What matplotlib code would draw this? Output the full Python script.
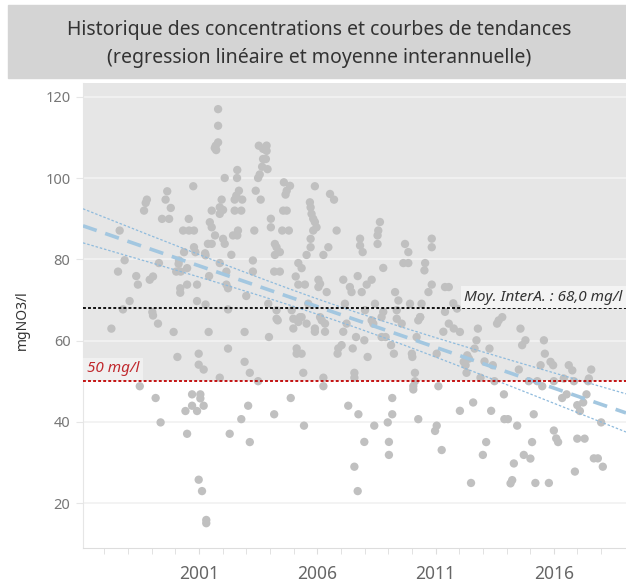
# Historique des concentrations en nitrates, avec tendance linéaire et moyenne interannuelle
import numpy as np
import matplotlib.pyplot as plt
from matplotlib.patches import Rectangle

plt.rcParams['font.family'] = ['Noto Sans', 'DejaVu Sans']

# dates des prélèvements (années décimales) et concentrations (mg NO3/l)
years = [
    2001.81, 2001.81, 2001.71, 2001.81, 2001.73, 2001.67, 2002.09, 2002.62, 2002.61,
    2003.53, 2003.71, 2003.71, 2003.67, 2003.50, 2003.57, 2003.40, 2003.61,
    2002.69, 2002.58, 2002.83, 2002.51, 2002.51, 2002.79,
    2001.96, 2001.54, 2001.88, 2002.02, 2001.88, 2000.76,
    1999.66, 1999.59, 1999.81, 1998.80, 1998.75, 1998.68, 1999.44, 1999.74, 2000.57,
    2000.33, 2000.58, 2000.79, 1997.65, 2001.46, 2001.54, 2001.68, 2002.02, 2002.09,
    2002.65, 2002.62, 2002.44, 2003.34, 2001.38, 2001.54, 2000.79, 2000.85, 2000.37,
    2001.26, 2001.28, 2002.37, 2003.28, 2003.28, 1997.86, 1999.31,
    2000.16, 2000.14, 2000.04, 2000.23, 1997.58, 1998.35, 1998.42, 1999.06, 1998.92,
    2000.50, 2001.88, 2002.16, 2001.43, 2000.50, 2000.92, 2000.21, 2000.21,
    2002.16, 2002.23, 2003.00, 1998.07, 2000.92, 2001.28, 1997.79, 1999.03, 2002.23,
    2003.86, 2003.86, 2003.83, 2003.90, 2004.59, 2004.85, 2004.71, 2004.66, 2005.90,
    2006.54, 2006.71, 2005.69, 2005.72, 2005.76, 2005.83, 2005.90, 2005.97, 2005.83,
    2004.04, 2004.04, 2004.56, 2004.71, 2004.52, 2004.80, 2006.82, 2005.72, 2005.72,
    2006.47, 2006.26, 2005.55, 2004.21, 2004.28, 2004.42, 2004.21,
    2008.65, 2008.58, 2008.55, 2008.55, 2007.81, 2007.81, 2007.92, 2009.71, 2009.85,
    2010.84, 2010.84, 2009.64, 2009.85, 2010.56, 2010.53, 2008.79, 2004.18, 2004.42,
    2005.20, 2005.34, 2005.09, 2006.05, 2006.12, 2006.05, 2005.48, 2005.20, 2007.10,
    2007.71, 2007.38, 2007.45, 2007.88, 2008.09, 2008.30, 2006.40, 2009.29, 2009.43,
    2010.84, 2010.70, 2011.40, 2003.93, 2004.92, 2005.27, 2005.62, 2004.28, 2004.28,
    2007.17, 2008.44, 2009.92, 2010.41, 2008.02, 2008.79, 2009.36, 2010.35, 2011.40,
    2006.12, 2011.56, 2011.75, 2011.91,
    1999.06, 1997.30, 1999.27, 1999.93, 2001.41, 2002.93, 2002.23, 2000.09, 2000.99,
    2000.99, 2001.20, 2002.93, 2003.15, 2001.88, 2003.50, 1998.50, 1999.17, 2000.71,
    2001.06, 2001.06, 2000.71, 2001.20, 2000.43, 2000.92, 2003.08, 2002.79, 1999.38,
    2000.50, 2002.30, 2003.15, 2000.99, 2001.13, 2001.31, 2001.31,
    2004.33, 2003.96, 2004.99, 2004.99, 2005.20, 2005.34, 2005.55, 2005.90, 2005.90,
    2006.19, 2006.33, 2006.33, 2007.10, 2007.24, 2005.13, 2005.13, 2005.34, 2006.89,
    2007.03, 2006.86, 2007.50, 2007.64, 2007.99, 2008.13, 2008.72, 2008.89, 2009.12,
    2009.24, 2008.37, 2008.30, 2008.72, 2009.36, 2009.57, 2010.00, 2010.02, 2010.27,
    2010.35, 2011.05, 2011.33, 2010.20, 2005.41, 2006.26, 2006.26, 2007.57, 2007.57,
    2010.13, 2010.13, 2010.06, 2010.06, 2011.12, 2004.88, 2004.18, 2005.44, 2007.31,
    2007.74, 2009.17, 2009.17, 2008.98, 2008.41, 2007.99, 2009.03, 2009.03, 2007.57,
    2007.71, 2010.27, 2011.05, 2010.98, 2011.26,
    2011.56, 2011.77, 2012.03, 2013.67, 2013.60, 2013.82, 2012.79, 2014.59, 2012.73,
    2012.65, 2014.80, 2014.66, 2015.58, 2015.62, 2013.28, 2012.34, 2012.41, 2012.19,
    2012.27, 2013.07, 2013.42, 2012.31, 2012.90, 2013.49, 2014.52, 2015.44, 2015.86,
    2015.97, 2016.63, 2016.78, 2017.58, 2014.94, 2015.30, 2015.51, 2016.00, 2016.42,
    2016.85, 2017.48, 2017.45, 2013.89, 2016.35, 2016.54, 2017.38, 2016.99, 2017.10,
    2017.24, 2012.59, 2012.03, 2013.35, 2015.15, 2013.91, 2014.06, 2014.45, 2018.00,
    2016.00, 2016.10, 2016.18, 2016.99, 2017.30, 2013.14, 2015.08, 2013.00, 2014.73,
    2015.01, 2014.31, 2017.69, 2017.86, 2018.07, 2016.89, 2012.50, 2014.24, 2014.17,
    2015.22, 2015.79,
]
no3 = [
    116.97, 112.88, 107.97, 108.79, 106.9, 107.4, 100.03, 102.0, 100.03,
    107.97, 107.2, 104.7, 102.8, 100.03, 100.9, 96.9, 94.71,
    96.9, 95.7, 94.71, 94.71, 92.0, 92.0,
    94.71, 92.0, 92.83, 92.17, 91.2, 98.0,
    96.76, 94.71, 92.66, 94.71, 93.9, 92.0, 89.97, 89.97, 89.97,
    87.1, 87.1, 87.1, 87.1, 89.15, 87.9, 85.9, 85.06, 83.83,
    87.1, 85.9, 85.9, 87.1, 83.83, 83.83, 83.0, 81.78, 81.78,
    81.5, 81.0, 81.13, 79.74, 77.0, 79.8, 79.1,
    79.74, 78.9, 77.0, 77.0, 77.0, 75.9, 73.8, 75.8, 75.0,
    77.85, 79.1, 77.0, 75.9, 73.8, 73.8, 72.9, 71.8,
    73.8, 72.9, 71.0, 69.75, 69.75, 68.9, 67.7, 67.05, 67.7,
    108.0, 106.7, 104.7, 102.2, 98.96, 98.1, 96.9, 95.94, 98.0,
    96.1, 94.7, 94.05, 92.8, 91.2, 90.0, 89.2, 87.9, 87.1,
    90.0, 87.9, 92.0, 92.0, 87.1, 87.1, 87.1, 85.06, 83.0,
    83.0, 81.1, 81.1, 83.8, 83.0, 81.8, 81.1,
    89.2, 87.1, 85.9, 83.8, 85.1, 83.4, 81.8, 83.8, 81.8,
    85.1, 83.0, 79.1, 79.1, 79.1, 77.3, 77.9, 77.0, 77.0,
    79.1, 77.85, 75.8, 75.0, 74.0, 73.2, 73.8, 73.8, 75.0,
    75.9, 73.2, 71.96, 71.96, 73.8, 75.0, 71.96, 71.96, 69.9,
    73.8, 71.96, 73.2, 69.1, 67.5, 65.8, 69.1, 67.5, 65.4,
    69.1, 69.1, 69.1, 69.1, 67.5, 67.1, 67.5, 65.8, 67.1,
    65.8, 73.2, 69.2, 67.9,
    66.2, 62.97, 64.2, 62.15, 62.15, 62.15, 58.06, 56.0, 56.8,
    54.1, 52.9, 54.8, 52.1, 50.9, 50.04, 48.8, 45.9, 46.8,
    46.8, 45.8, 44.0, 44.0, 42.7, 42.7, 44.0, 40.7, 39.9,
    37.1, 37.1, 35.06, 25.8, 23.0, 15.9, 15.1,
    65.0, 60.9, 65.4, 63.0, 64.6, 65.8, 64.2, 63.0, 62.2,
    65.0, 64.2, 62.2, 62.2, 64.2, 58.1, 56.8, 56.8, 58.1,
    58.9, 56.8, 58.1, 60.9, 60.1, 56.0, 60.9, 60.9, 58.9,
    56.8, 64.2, 65.0, 65.8, 65.4, 64.2, 56.8, 56.0, 65.0,
    65.8, 56.8, 62.2, 60.9, 52.1, 50.9, 48.8, 52.1, 50.9,
    52.1, 50.04, 48.8, 48.0, 48.8, 45.9, 41.9, 39.1, 44.0,
    41.9, 45.9, 41.9, 39.9, 39.1, 35.1, 35.1, 31.9, 29.0,
    23.0, 40.7, 39.1, 37.8, 33.1,
    64.2, 63.0, 62.15, 65.0, 64.2, 65.8, 62.97, 62.97, 60.1,
    58.06, 60.1, 58.9, 60.1, 56.8, 58.06, 56.4, 55.6, 54.8,
    53.97, 54.9, 53.97, 52.1, 50.9, 50.04, 52.9, 53.97, 54.8,
    53.97, 53.97, 52.7, 52.9, 50.04, 50.04, 48.8, 50.04, 50.7,
    50.04, 50.7, 50.04, 46.8, 45.9, 46.8, 46.8, 44.15, 42.7,
    44.8, 44.8, 42.75, 42.75, 41.9, 40.7, 40.7, 39.1, 39.9,
    37.9, 35.96, 35.06, 35.9, 35.9, 35.06, 35.06, 31.9, 31.9,
    31.0, 29.8, 31.05, 31.05, 29.0, 27.8, 25.0, 25.7, 24.9,
    25.0, 25.0,
]

moyenne_interannuelle = 68.0
seuil = 50
x_ticks_labels = [2001, 2006, 2011, 2016]
y_ticks = [20, 40, 60, 80, 100, 120]

x = np.array(years)
y = np.array(no3)

# Regression lineaire + intervalle de confiance a 95 % sur la moyenne
slope, intercept = np.polyfit(x, y, 1)
resid = y - (slope * x + intercept)
n = len(x)
s = np.sqrt(np.sum(resid ** 2) / (n - 2))
sxx = np.sum((x - x.mean()) ** 2)

x_min, x_max = 1996.1, 2019.05
xs = np.linspace(x_min, x_max, 200)
fit = slope * xs + intercept
half = 1.96 * s * np.sqrt(1 / n + (xs - x.mean()) ** 2 / sxx)

fig = plt.figure(figsize=(6.26, 5.84), dpi=100)
ax = fig.add_axes([83 / 626, 36 / 584, 543 / 626, 465 / 584])

# bandeau du titre
fig.patches.append(Rectangle((8 / 626, 1 - 78 / 584), 1, 73 / 584,
                             transform=fig.transFigure, color='#d4d4d4', zorder=0))
fig.text(0.51, 1 - 30 / 584, 'Historique des concentrations et courbes de tendances',
         ha='center', va='center', fontsize=14, color='#333333')
fig.text(0.51, 1 - 58 / 584, '(regression linéaire et moyenne interannuelle)',
         ha='center', va='center', fontsize=14, color='#333333')

ax.set_xlim(x_min, x_max)
ax.set_ylim(9, 123.4)
ax.axhspan(seuil, 123.4, color='#e6e6e6', zorder=0, lw=0)
for v in y_ticks:
    ax.axhline(v, color='#f2f2f2', lw=1.3, zorder=0.5)

ax.scatter(x, y, s=36, color='#c0c0c0', edgecolors='none', zorder=2)

ax.plot(xs, fit, color='#a3c7e0', lw=2.6, dashes=(4, 2.5), zorder=3)
ax.plot(xs, fit + half, color='#8fbbdd', lw=0.9, dashes=(2, 1.5), zorder=3)
ax.plot(xs, fit - half, color='#8fbbdd', lw=0.9, dashes=(2, 1.5), zorder=3)

ax.axhline(moyenne_interannuelle, color='black', lw=1.3, dashes=(1.6, 1.2), zorder=4)
ax.axhline(seuil, color='#c00000', lw=1.3, dashes=(1.6, 1.2), zorder=4)

ax.text(x_max - 0.15, moyenne_interannuelle + 0.9, 'Moy. InterA. : 68,0 mg/l',
        ha='right', va='bottom', fontsize=11, style='italic', color='#333333',
        bbox=dict(facecolor='#f3f3f3', edgecolor='none', pad=2.5), zorder=5)
ax.text(x_min + 0.15, seuil + 1.2, '50 mg/l', ha='left', va='bottom', fontsize=11,
        style='italic', color='#c0282d',
        bbox=dict(facecolor='#f0f0f0', edgecolor='none', pad=2.5), zorder=5)

ax.set_xticks(x_ticks_labels)
ax.set_xticklabels([str(v) for v in x_ticks_labels])
ax.set_xticks(range(1997, 2019), minor=True)
ax.set_yticks(y_ticks)
ax.tick_params(axis='x', which='both', length=4, color='#dddddd', labelsize=12.5,
               labelcolor='#666666', pad=8)
ax.tick_params(axis='y', length=5, color='#e6e6e6', labelsize=10.5,
               labelcolor='#777777', pad=4)

for side in ['top', 'right']:
    ax.spines[side].set_visible(False)
ax.spines['left'].set_color('#e6e6e6')
ax.spines['bottom'].set_color('#dddddd')

fig.text(22 / 626, 1 - 320 / 584, 'mgNO3/l', rotation=90, ha='center', va='center',
         fontsize=10, color='#333333')

plt.savefig('out.png', dpi=100)
